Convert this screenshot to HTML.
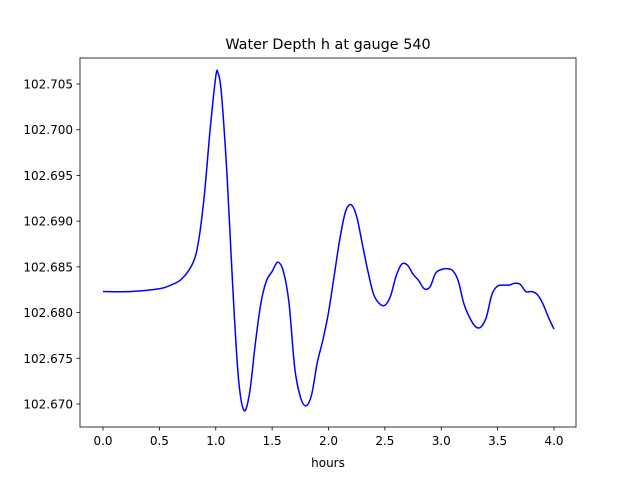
<!DOCTYPE html>
<html><head><meta charset="utf-8"><style>
body{margin:0;background:#fff;}
svg text{font-family:"DejaVu Sans","Liberation Sans",sans-serif;}
</style></head><body>
<svg id="chart" width="640" height="480" viewBox="0 0 640 480">
<rect width="640" height="480" fill="#fff"/>
<text x="328" y="49" font-size="14.4" text-anchor="middle">Water Depth h at gauge 540</text>
<g id="ticks"></g>
<path id="line" fill="none" stroke="#0000ff" stroke-width="1.5"/>
<rect x="80" y="58" width="496" height="369" fill="none" stroke="#000" stroke-width="0.8"/>
<text x="328" y="467" font-size="12" text-anchor="middle">hours</text>
</svg>
<script>
const hours=[0,0.25,0.5,0.6,0.7,0.8,0.85,0.9,0.95,1.0,1.02,1.05,1.1,1.15,1.2,1.25,1.3,1.35,1.4,1.45,1.5,1.55,1.6,1.65,1.7,1.75,1.8,1.85,1.9,1.95,2.0,2.05,2.1,2.15,2.2,2.25,2.3,2.35,2.4,2.45,2.5,2.55,2.6,2.65,2.7,2.75,2.8,2.85,2.9,2.95,3.0,3.05,3.1,3.15,3.2,3.25,3.3,3.35,3.4,3.45,3.5,3.55,3.6,3.65,3.7,3.75,3.8,3.85,3.9,3.95,4.0];
const depth=[102.6823,102.6823,102.6826,102.6830,102.6837,102.6855,102.688,102.693,102.700,102.7058,102.7062,102.704,102.695,102.683,102.673,102.6693,102.6712,102.6765,102.681,102.6835,102.6845,102.6855,102.6845,102.681,102.674,102.6708,102.6698,102.671,102.6745,102.677,102.680,102.684,102.688,102.691,102.6918,102.6905,102.6875,102.6845,102.682,102.681,102.6808,102.6818,102.684,102.6853,102.6852,102.6842,102.6835,102.6826,102.6828,102.6843,102.6847,102.6848,102.6846,102.6835,102.681,102.6795,102.6785,102.6784,102.6795,102.682,102.6829,102.683,102.683,102.6832,102.6831,102.6823,102.6823,102.682,102.681,102.6795,102.6782];
const xTicks=[0,0.5,1,1.5,2,2.5,3,3.5,4];
const xTickLabels=["0.0","0.5","1.0","1.5","2.0","2.5","3.0","3.5","4.0"];
const yTicks=[102.670,102.675,102.680,102.685,102.690,102.695,102.700,102.705];
const yTickLabels=["102.670","102.675","102.680","102.685","102.690","102.695","102.700","102.705"];
const X=v=>103+(v-0)*(554-103)/4;
const Y=v=>404-(v-102.670)*(320/0.035);
const NS="http://www.w3.org/2000/svg";
const g=document.getElementById('ticks');
function mk(t,a){const e=document.createElementNS(NS,t);for(const k in a)e.setAttribute(k,a[k]);g.appendChild(e);return e;}
xTicks.forEach((v,i)=>{
 const l=mk('line',{x1:X(v),x2:X(v),y1:427,y2:430.5,stroke:'#000','stroke-width':0.8});
 
 
 const t=mk('text',{x:X(v),y:445,'font-size':12,'text-anchor':'middle'});t.textContent=xTickLabels[i];
 
 
});
yTicks.forEach((v,i)=>{
 const l=mk('line',{x1:76.5,x2:80,y1:Y(v),y2:Y(v),stroke:'#000','stroke-width':0.8});
 
 
 const t=mk('text',{x:73,y:Y(v)+4.5,'font-size':12,'text-anchor':'end'});t.textContent=yTickLabels[i];
 
 
});
const P=hours.map((h,i)=>[X(h),Y(depth[i])]);
let d='M'+P[0][0]+','+P[0][1];
for(let i=0;i<P.length-1;i++){
 const p0=P[Math.max(0,i-1)],p1=P[i],p2=P[i+1],p3=P[Math.min(P.length-1,i+2)];
 const c1=[p1[0]+(p2[0]-p0[0])/6,p1[1]+(p2[1]-p0[1])/6];
 const c2=[p2[0]-(p3[0]-p1[0])/6,p2[1]-(p3[1]-p1[1])/6];
 d+=`C${c1[0]},${c1[1]} ${c2[0]},${c2[1]} ${p2[0]},${p2[1]}`;
}
document.getElementById('line').setAttribute('d',d);
</script>
</body></html>
